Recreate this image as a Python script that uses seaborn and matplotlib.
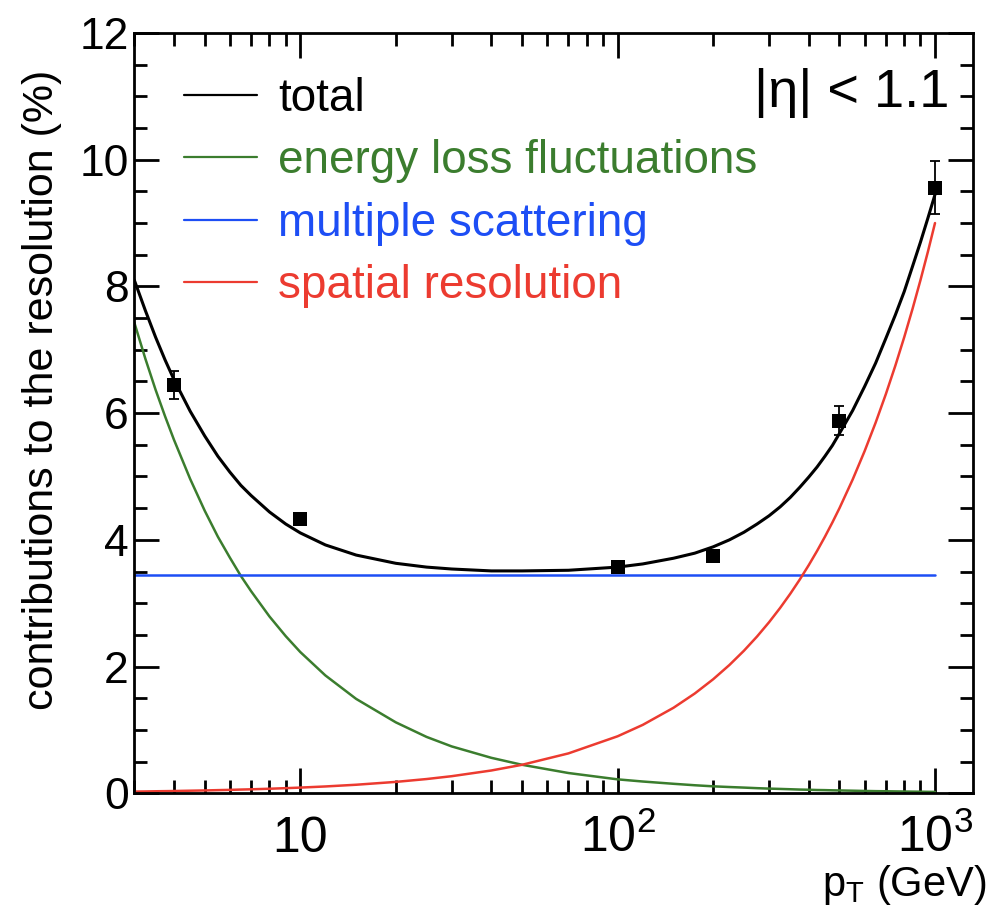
import matplotlib
matplotlib.use("Agg")
import matplotlib.pyplot as plt
import seaborn as sns
import pandas as pd
from matplotlib.ticker import (FixedLocator, FixedFormatter, LogLocator,
                               MultipleLocator, NullFormatter)

# ---------------- data ----------------
p_curve = [3, 3.25, 3.5, 3.75, 4, 4.5, 5, 5.5, 6, 6.5, 7, 8, 9, 10, 12, 15,
           20, 25, 30, 40, 50, 70, 100, 120, 150, 175, 200, 225, 250, 275,
           300, 325, 350, 375, 400, 425, 450, 475, 500, 550, 600, 650, 700,
           750, 800, 850, 900, 950, 1000]
total = [8.10, 7.62, 7.20, 6.84, 6.53, 6.03, 5.64, 5.32, 5.07, 4.86, 4.70,
         4.44, 4.25, 4.11, 3.92, 3.76, 3.63, 3.57, 3.54, 3.51, 3.51, 3.52,
         3.57, 3.62, 3.71, 3.79, 3.89, 4.00, 4.12, 4.25, 4.38, 4.52, 4.67,
         4.83, 4.99, 5.15, 5.32, 5.49, 5.68, 6.04, 6.42, 6.79, 7.18, 7.55,
         7.92, 8.32, 8.70, 9.08, 9.45]
eloss = [7.43, 6.86, 6.37, 5.95, 5.58, 4.96, 4.46, 4.05, 3.72, 3.43, 3.19,
         2.79, 2.48, 2.23, 1.86, 1.49, 1.12, 0.89, 0.74, 0.56, 0.45, 0.32,
         0.22, 0.186, 0.15, 0.127, 0.11, 0.099, 0.09, 0.081, 0.074, 0.069,
         0.064, 0.059, 0.056, 0.052, 0.050, 0.047, 0.045, 0.041, 0.037,
         0.034, 0.032, 0.030, 0.028, 0.026, 0.025, 0.023, 0.022]
spatial = [0.027, 0.029, 0.032, 0.034, 0.036, 0.041, 0.045, 0.050, 0.054,
           0.059, 0.063, 0.072, 0.081, 0.090, 0.108, 0.135, 0.18, 0.225,
           0.27, 0.36, 0.45, 0.63, 0.90, 1.08, 1.35, 1.575, 1.80, 2.025,
           2.25, 2.475, 2.70, 2.925, 3.15, 3.375, 3.60, 3.825, 4.05, 4.275,
           4.50, 4.95, 5.40, 5.85, 6.30, 6.75, 7.20, 7.65, 8.10, 8.55, 9.00]
p_ms = [3, 1000]
mscatt = [3.45, 3.45]

p_data = [4, 10, 100, 200, 500, 1000]
sigma_data = [6.45, 4.33, 3.57, 3.74, 5.88, 9.56]
sigma_err = [0.22, 0.08, 0.05, 0.06, 0.23, 0.42]

labels = ["total", "energy loss fluctuations", "multiple scattering",
          "spatial resolution"]
colors = ["#000000", "#3b7d2e", "#1d4ef5", "#ec3b30"]
xtick_vals = [10, 100, 1000]
xtick_labels = ["10", r"$10^{2}$", r"$10^{3}$"]

# ---------------- style ----------------
sns.set_theme(style="ticks")
plt.rcParams["font.family"] = ["Liberation Sans", "DejaVu Sans"]
plt.rcParams["mathtext.fontset"] = "custom"
plt.rcParams["mathtext.rm"] = "Liberation Sans"
plt.rcParams["mathtext.it"] = "Liberation Sans:italic"
plt.rcParams["mathtext.bf"] = "Liberation Sans:bold"
plt.rcParams["axes.linewidth"] = 2.0
for key in ["text.color", "axes.labelcolor", "xtick.color", "ytick.color",
            "axes.edgecolor", "xtick.labelcolor", "ytick.labelcolor"]:
    plt.rcParams[key] = "black"

fig = plt.figure(figsize=(9.89, 9.11), dpi=100)
ax = fig.add_axes([0.1358, 0.1292, 0.8483, 0.8346])

df = pd.DataFrame({"p": p_curve, "total": total, "eloss": eloss,
                   "spatial": spatial})
dms = pd.DataFrame({"p": p_ms, "ms": mscatt})
dpts = pd.DataFrame({"p": p_data, "s": sigma_data, "e": sigma_err})

sns.lineplot(data=df, x="p", y="eloss", color=colors[1], lw=1.8, ax=ax,
             label=labels[1], legend=False)
sns.lineplot(data=dms, x="p", y="ms", color=colors[2], lw=1.8, ax=ax,
             label=labels[2], legend=False)
sns.lineplot(data=df, x="p", y="spatial", color=colors[3], lw=1.8, ax=ax,
             label=labels[3], legend=False)
sns.lineplot(data=df, x="p", y="total", color=colors[0], lw=2.2, ax=ax,
             label=labels[0], legend=False)

ax.errorbar(dpts["p"], dpts["s"], yerr=dpts["e"], fmt="none", ecolor="black",
            elinewidth=1.3, capsize=3.6, capthick=1.3, zorder=4)
sns.scatterplot(data=dpts, x="p", y="s", marker="s", s=90, color="black",
                edgecolor="black", linewidth=0, ax=ax, zorder=5, legend=False)

ax.set_xscale("log")
ax.set_xlim(3, 1320)
ax.set_ylim(0, 12)

ax.xaxis.set_major_locator(FixedLocator(xtick_vals))
ax.xaxis.set_major_formatter(FixedFormatter(xtick_labels))
ax.xaxis.set_minor_locator(LogLocator(base=10, subs=range(2, 10), numticks=20))
ax.xaxis.set_minor_formatter(NullFormatter())
ax.yaxis.set_major_locator(MultipleLocator(2))
ax.yaxis.set_minor_locator(MultipleLocator(0.5))

ax.tick_params(which="both", direction="in", top=True, right=True,
               width=2.0, color="black", labelcolor="black")
ax.tick_params(which="major", length=18)
ax.tick_params(which="minor", length=9.5)
ax.tick_params(axis="y", labelsize=32, pad=4)
ax.tick_params(axis="x", labelsize=36, pad=42)
for lab in ax.get_xticklabels():
    lab.set_va("baseline")

for sp in ax.spines.values():
    sp.set_color("black")
    sp.set_linewidth(2.0)

ax.set_xlabel(r"p$_{\mathrm{T}}$ (GeV)", fontsize=30, loc="right",
              va="baseline")
ax.xaxis.set_label_coords(1.0163, -0.1345)
ax.set_ylabel("contributions to the resolution (%)", fontsize=31)
ax.yaxis.set_label_coords(-0.086, 0.53)

ax.text(0.971, 0.9027, "|η| < 1.1", transform=ax.transAxes, ha="right",
        va="baseline", fontsize=39)

handles, labs = ax.get_legend_handles_labels()
order = [labs.index(l) for l in labels]
leg = ax.legend([handles[i] for i in order], [labs[i] for i in order],
                loc="upper left", bbox_to_anchor=(0.059, 0.942),
                frameon=False, fontsize=33, handlelength=1.6,
                handletextpad=0.45, labelspacing=0.4, borderaxespad=0,
                borderpad=0)
for txt, ln in zip(leg.get_texts(), leg.get_lines()):
    txt.set_color(ln.get_color())
    ln.set_linewidth(1.6)

fig.savefig("out.png", dpi=100)
